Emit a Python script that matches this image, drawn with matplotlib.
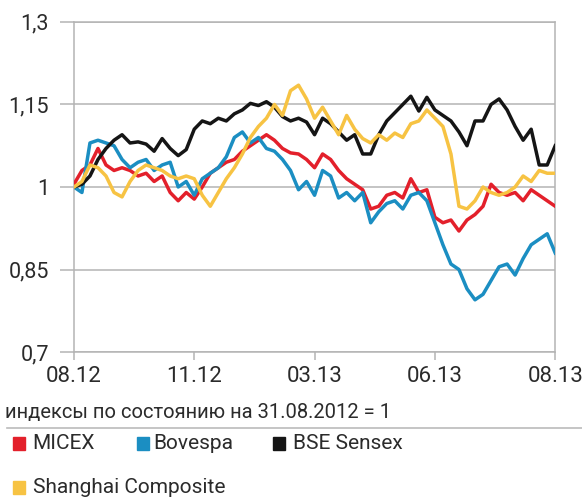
import matplotlib
matplotlib.use('Agg')
import matplotlib.pyplot as plt
from matplotlib.patches import Rectangle
import numpy as np

plt.rcParams['font.family'] = ['Roboto', 'DejaVu Sans']

# months since 31.08.2012, one reading every ~0.2 month
months = np.linspace(0, 12, 61)

micex = [1.005, 1.03, 1.04, 1.07, 1.04, 1.03, 1.035, 1.03, 1.02, 1.025,
         1.01, 1.02, 0.99, 0.975, 0.99, 0.978, 1.0, 1.025, 1.035, 1.045,
         1.05, 1.065, 1.075, 1.085, 1.095, 1.085, 1.07, 1.062, 1.06, 1.05,
         1.035, 1.06, 1.05, 1.03, 1.015, 1.005, 0.995, 0.96, 0.965, 0.985,
         0.99, 0.98, 1.015, 0.99, 0.995, 0.945, 0.935, 0.94, 0.92, 0.94,
         0.95, 0.965, 1.005, 0.99, 0.985, 0.99, 0.975, 0.995, 0.985, 0.975,
         0.965]
bovespa = [1.0, 0.99, 1.08, 1.085, 1.08, 1.075, 1.05, 1.035, 1.045, 1.05,
           1.03, 1.04, 1.045, 1.0, 1.01, 0.985, 1.015, 1.025, 1.035, 1.055,
           1.09, 1.1, 1.08, 1.09, 1.07, 1.065, 1.05, 1.03, 0.995, 1.01,
           0.985, 1.03, 1.02, 0.98, 0.99, 0.975, 0.99, 0.935, 0.955, 0.97,
           0.975, 0.96, 0.985, 0.99, 0.975, 0.935, 0.895, 0.86, 0.85, 0.815,
           0.795, 0.805, 0.83, 0.855, 0.86, 0.84, 0.87, 0.895, 0.905, 0.915,
           0.88]
sensex = [1.0, 1.005, 1.02, 1.05, 1.07, 1.085, 1.095, 1.08, 1.082, 1.078,
          1.065, 1.088, 1.07, 1.057, 1.068, 1.105, 1.12, 1.115, 1.125, 1.12,
          1.133, 1.14, 1.152, 1.148, 1.155, 1.145, 1.128, 1.12, 1.125, 1.118,
          1.095, 1.125, 1.115, 1.1, 1.085, 1.095, 1.06, 1.06, 1.095, 1.12,
          1.135, 1.15, 1.165, 1.138, 1.163, 1.14, 1.13, 1.12, 1.1, 1.075,
          1.12, 1.12, 1.15, 1.16, 1.14, 1.11, 1.085, 1.105, 1.04, 1.04,
          1.075]
shanghai = [1.0, 1.01, 1.04, 1.035, 1.02, 0.99, 0.982, 1.01, 1.03, 1.04,
            1.035, 1.03, 1.02, 1.015, 1.02, 1.015, 0.985, 0.965, 0.99, 1.015,
            1.035, 1.06, 1.09, 1.11, 1.125, 1.15, 1.13, 1.175, 1.185, 1.16,
            1.125, 1.145, 1.12, 1.095, 1.13, 1.105, 1.088, 1.08, 1.095, 1.085,
            1.098, 1.09, 1.115, 1.12, 1.14, 1.125, 1.11, 1.06, 0.965, 0.96,
            0.975, 1.0, 0.99, 0.985, 0.99, 1.0, 1.02, 1.01, 1.03, 1.025,
            1.025]

x_ticks = [0, 3, 6, 9, 12]
x_labels = ['08.12', '11.12', '03.13', '06.13', '08.13']
y_ticks = [0.7, 0.85, 1.0, 1.15, 1.3]
y_labels = ['0,7', '0,85', '1', '1,15', '1,3']

names = ['MICEX', 'Bovespa', 'BSE Sensex', 'Shanghai Composite']
colors = ['#e3202b', '#1b8ec2', '#151515', '#f7c343']
series = [micex, bovespa, sensex, shanghai]

fig = plt.figure(figsize=(5.82, 4.98), dpi=100)
ax = fig.add_axes([0.127, 0.293, 0.827, 0.663])

# yellow first, red on top
for i in [3, 1, 2, 0]:
    ax.plot(months, series[i], color=colors[i], lw=2.5, solid_joinstyle='round', zorder=3 + i)

ax.set_xlim(0, 12)
ax.set_ylim(0.7, 1.3)
ax.set_xticks(x_ticks)
ax.set_xticklabels(x_labels)
ax.set_yticks(y_ticks)
ax.set_yticklabels(y_labels)
ax.grid(axis='y', color='#b4b4b4', lw=1.1)
for s in ax.spines.values():
    s.set_color('#b4b4b4')
    s.set_linewidth(1.1)
ax.tick_params(axis='y', length=10, color='#b4b4b4', width=1.1, labelsize=15.5, labelcolor='#2b2b2b', pad=8)
ax.tick_params(axis='x', length=6, color='#b4b4b4', width=1.1, labelsize=16, labelcolor='#2b2b2b', pad=4)

tc = '#2b2b2b'
fig.text(0.008, 0.172, 'индексы по состоянию на 31.08.2012 = 1', fontsize=14.5, color=tc, va='center')
fig.add_artist(plt.Line2D([0.012, 1], [0.1406, 0.1406], color='#bbbbbb', lw=1.2))

# legend: square left edge, text left edge, row centre (figure fractions)
legend_pos = [(0.022, 0.055, 0.109), (0.235, 0.263, 0.109),
              (0.469, 0.503, 0.109), (0.022, 0.057, 0.021)]
for (sx, tx, ly), name, c in zip(legend_pos, names, colors):
    fig.add_artist(Rectangle((sx, ly - 0.0125), 0.0206, 0.025, color=c, transform=fig.transFigure))
    fig.text(tx, ly, name, fontsize=15, color=tc, va='center')

fig.savefig('out.png', dpi=100)
